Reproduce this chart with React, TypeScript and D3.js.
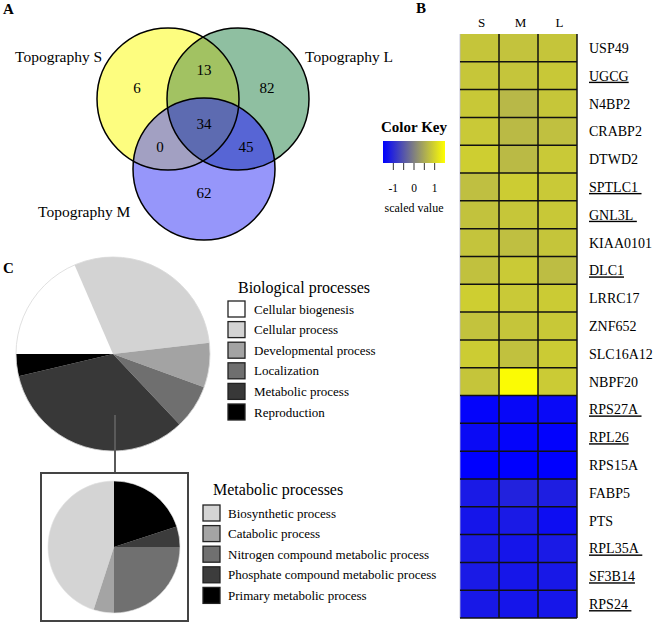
import React from 'react';
import * as d3 from 'd3';

// ---------- Panel A: Venn ----------
const vennSetNames = ['Topography S', 'Topography L', 'Topography M'];
const vennRegions = ['S', 'L', 'M', 'SL', 'SM', 'LM', 'SLM'];
const vennCounts = [6, 82, 62, 13, 0, 45, 34];

// ---------- Panel B: heatmap ----------
const heatColumns = ['S', 'M', 'L'];
const genes = [
  'USP49', 'UGCG', 'N4BP2', 'CRABP2', 'DTWD2', 'SPTLC1', 'GNL3L', 'KIAA0101', 'DLC1',
  'LRRC17', 'ZNF652', 'SLC16A12', 'NBPF20', 'RPS27A', 'RPL26', 'RPS15A', 'FABP5', 'PTS',
  'RPL35A', 'SF3B14', 'RPS24',
];
const underlinedGenes = ['UGCG', 'SPTLC1', 'GNL3L', 'DLC1', 'RPS27A', 'RPL26', 'RPL35A', 'SF3B14', 'RPS24'];
const trailingSpaceGenes = ['SPTLC1', 'GNL3L', 'RPS27A', 'RPL35A', 'RPS24'];
const valuesS = [0.82, 0.83, 0.85, 0.86, 0.92, 0.74, 0.78, 0.8, 0.77, 0.92, 0.79, 0.9, 0.82, -1.45, -1.38, -1.5, -1.2, -1.25, -1.2, -1.2, -1.22];
const valuesM = [0.79, 0.81, 0.66, 0.69, 0.69, 0.9, 0.83, 0.74, 0.87, 0.86, 0.82, 0.77, 1.45, -1.42, -1.45, -1.5, -1.1, -1.2, -1.25, -1.24, -1.25];
const valuesL = [0.82, 0.85, 0.83, 0.75, 0.86, 0.86, 0.85, 0.82, 0.72, 0.89, 0.85, 0.89, 0.88, -1.4, -1.48, -1.5, -1.15, -1.35, -1.2, -1.22, -1.24];
const colorKeyTicks = [-1, -0.5, 0, 0.5, 1];
const colorKeyLabels = [-1, 0, 1];

// ---------- Panel C: pies ----------
const bioCategories = ['Cellular biogenesis', 'Cellular process', 'Developmental process', 'Localization', 'Metabolic process', 'Reproduction'];
const bioCounts = [5, 8, 2, 2, 9, 1];
const bioColors = ['#ffffff', '#d3d3d3', '#a3a3a3', '#6f6f6f', '#383838', '#000000'];

const metaCategories = ['Biosynthetic process', 'Catabolic process', 'Nitrogen compound metabolic process', 'Phosphate compound metabolic process', 'Primary metabolic process'];
const metaCounts = [9, 1, 5, 1, 4];
const metaColors = ['#d4d4d4', '#a4a4a4', '#707070', '#3c3c3c', '#000000'];

const serif = "'Liberation Serif', 'Times New Roman', serif";

export default function App() {
  // Venn geometry
  const r = 71;
  const cS = { x: 168, y: 99 };
  const cL = { x: 238, y: 99 };
  const cM = { x: 204, y: 169 };
  const vennColors: Record<string, string> = {
    S: '#fdfd7f', L: '#8fbfa1', M: '#9696fa', SL: '#a2c262', SM: '#a2a0c2', LM: '#5765d5', SLM: '#5d6bb1',
  };
  const regionPos: Record<string, [number, number]> = {
    S: [137, 88], L: [267, 88], M: [204, 193], SL: [204, 70], SM: [160, 147], LM: [246, 147], SLM: [204, 124],
  };

  // Heatmap
  const x = d3.scaleBand<string>().domain(heatColumns).range([460, 577]);
  const y = d3.scaleBand<string>().domain(genes).range([34, 618]);
  const color = d3.scaleLinear<string>().domain([-1.5, 0, 1.5]).range(['#0000ff', '#808080', '#ffff00']);
  const colValues: Record<string, number[]> = { S: valuesS, M: valuesM, L: valuesL };
  const keyX = d3.scaleLinear().domain([-1.5, 1.5]).range([383, 445]);

  // Pies
  const bigPie = d3.pie<number>().sort(null).startAngle(-Math.PI / 2).endAngle(1.5 * Math.PI)(bioCounts);
  const bigArc = d3.arc<d3.PieArcDatum<number>>().innerRadius(0).outerRadius(97);
  const smallPie = d3.pie<number>().sort(null).startAngle(2 * Math.PI).endAngle(0)(metaCounts);
  const smallArc = d3.arc<d3.PieArcDatum<number>>().innerRadius(0).outerRadius(66);

  const legendStep = 20.6;
  const tf = { fontFamily: serif };

  return (
    <svg width={655} height={622} style={{ position: 'absolute', left: 0, top: 0, background: '#fff', fontFamily: serif }}>
      <rect width={655} height={622} fill="#fff" />
      {/* Panel labels */}
      <text style={tf} x={3} y={14} fontSize={15} fontWeight="bold">A</text>
      <text style={tf} x={416} y={13} fontSize={15} fontWeight="bold">B</text>
      <text style={tf} x={3} y={273} fontSize={15} fontWeight="bold">C</text>

      {/* Venn */}
      <defs>
        <clipPath id="clipS"><circle cx={cS.x} cy={cS.y} r={r} /></clipPath>
        <clipPath id="clipL"><circle cx={cL.x} cy={cL.y} r={r} /></clipPath>
        <linearGradient id="keyGrad" x1="0" x2="1" y1="0" y2="0">
          <stop offset="0%" stopColor={color(-1.5)} />
          <stop offset="50%" stopColor={color(0)} />
          <stop offset="100%" stopColor={color(1.5)} />
        </linearGradient>
      </defs>
      <circle cx={cS.x} cy={cS.y} r={r} fill={vennColors.S} />
      <circle cx={cL.x} cy={cL.y} r={r} fill={vennColors.L} />
      <circle cx={cM.x} cy={cM.y} r={r} fill={vennColors.M} />
      <g clipPath="url(#clipS)"><circle cx={cL.x} cy={cL.y} r={r} fill={vennColors.SL} /></g>
      <g clipPath="url(#clipS)"><circle cx={cM.x} cy={cM.y} r={r} fill={vennColors.SM} /></g>
      <g clipPath="url(#clipL)"><circle cx={cM.x} cy={cM.y} r={r} fill={vennColors.LM} /></g>
      <g clipPath="url(#clipS)"><g clipPath="url(#clipL)"><circle cx={cM.x} cy={cM.y} r={r} fill={vennColors.SLM} /></g></g>
      {[cS, cL, cM].map((c, i) => (
        <circle key={i} cx={c.x} cy={c.y} r={r} fill="none" stroke="#000" strokeWidth={1.5} />
      ))}
      {vennRegions.map((reg, i) => (
        <text style={tf} key={reg} x={regionPos[reg][0]} y={regionPos[reg][1] + 5} fontSize={15} textAnchor="middle">{vennCounts[i]}</text>
      ))}
      <text style={tf} x={15} y={62} fontSize={15.5}>{vennSetNames[0]}</text>
      <text style={tf} x={305} y={62} fontSize={15.5}>{vennSetNames[1]}</text>
      <text style={tf} x={38} y={217} fontSize={15.5}>{vennSetNames[2]}</text>

      {/* Heatmap */}
      {heatColumns.map((col) => (
        <text style={tf} key={col} x={(x(col) as number) + x.bandwidth() / 2 + 2} y={27} fontSize={13} textAnchor="middle">{col}</text>
      ))}
      {heatColumns.map((col) =>
        genes.map((g, i) => (
          <rect key={col + g} x={x(col)} y={y(g)} width={x.bandwidth()} height={y.bandwidth()} fill={color(colValues[col][i])} />
        ))
      )}
      <line x1={460} x2={460} y1={34} y2={618} stroke="#b8b8d0" strokeWidth={0.8} />
      {heatColumns.slice(1).map((col) => (
        <line key={'v' + col} x1={x(col)} x2={x(col)} y1={34} y2={618} stroke="#111" strokeWidth={1.5} />
      ))}
      <line x1={577} x2={577} y1={34} y2={618} stroke="#111" strokeWidth={1.5} />
      {genes.slice(1).map((g) => (
        <line key={'h' + g} x1={460} x2={577} y1={y(g)} y2={y(g)} stroke="#111" strokeWidth={1.5} />
      ))}
      <line x1={460} x2={577} y1={618} y2={618} stroke="#111" strokeWidth={1.5} />
      {genes.map((g) => (
        <text
          key={'t' + g}
          x={589}
          y={(y(g) as number) + y.bandwidth() / 2 + 5}
          fontSize={14}
          textDecoration={underlinedGenes.includes(g) ? 'underline' : undefined}
          style={{ whiteSpace: 'pre', fontFamily: serif }}
        >
          {g + (trailingSpaceGenes.includes(g) ? '\u00A0' : '')}
        </text>
      ))}

      {/* Color key */}
      <text style={tf} x={414} y={132} fontSize={15} fontWeight="bold" textAnchor="middle">Color Key</text>
      <rect x={keyX(-1.5)} y={141} width={keyX(1.5) - keyX(-1.5)} height={22} fill="url(#keyGrad)" />
      {colorKeyTicks.map((t) => (
        <line key={'k' + t} x1={keyX(t)} x2={keyX(t)} y1={163} y2={170} stroke="#333" strokeWidth={1} />
      ))}
      {colorKeyLabels.map((t) => (
        <text style={tf} key={'kl' + t} x={keyX(t)} y={192} fontSize={11.5} textAnchor="middle">{t}</text>
      ))}
      <text style={tf} x={414} y={212} fontSize={12} textAnchor="middle">scaled value</text>

      {/* Big pie */}
      <g transform="translate(113,354)">
        {bigPie.map((d, i) => (
          <path key={i} d={bigArc(d) as string} fill={bioColors[i]} />
        ))}
        <circle r={97} fill="none" stroke="#d8d8d8" strokeWidth={0.8} />
      </g>
      <line x1={115} x2={115} y1={415} y2={473} stroke="#5a5a5a" strokeWidth={2} />
      <text style={tf} x={238} y={293} fontSize={16}>Biological processes</text>
      {bioCategories.map((c, i) => (
        <g key={c}>
          <rect x={228} y={301 + i * legendStep} width={17} height={16} fill={bioColors[i]} stroke="#222" strokeWidth={1.3} />
          <text style={tf} x={254} y={313.5 + i * legendStep} fontSize={13}>{c}</text>
        </g>
      ))}

      {/* Metabolic box + small pie */}
      <rect x={41} y={473} width={147} height={148} fill="#fff" stroke="#444" strokeWidth={2} />
      <g transform="translate(114,547)">
        {smallPie.map((d, i) => (
          <path key={i} d={smallArc(d) as string} fill={metaColors[i]} />
        ))}
        <circle r={66} fill="none" stroke="#e0e0e0" strokeWidth={0.6} />
      </g>
      <text style={tf} x={213} y={495} fontSize={16}>Metabolic processes</text>
      {metaCategories.map((c, i) => (
        <g key={c}>
          <rect x={203} y={505 + i * legendStep} width={17} height={16} fill={metaColors[i]} stroke="#222" strokeWidth={1.3} />
          <text style={tf} x={228} y={517.5 + i * legendStep} fontSize={13}>{c}</text>
        </g>
      ))}
    </svg>
  );
}
